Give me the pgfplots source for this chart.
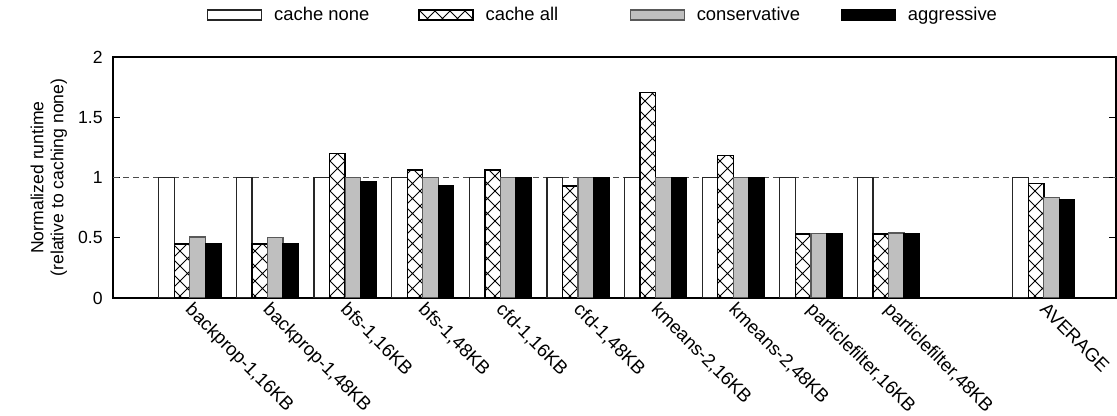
\documentclass[border=0pt]{standalone}
\usepackage{fontspec}
\setmainfont{Liberation Sans}
\usepackage{pgfplots}
\usepackage{pgfplotstable}
\pgfplotsset{compat=1.18}
\usetikzlibrary{patterns}
\pgfdeclarepatternformonly{bigcross}{\pgfqpoint{-0.3pt}{-0.3pt}}{\pgfqpoint{7.8pt}{7.8pt}}{\pgfqpoint{7.5pt}{7.5pt}}{%
 \pgfsetlinewidth{0.45pt}%
 \pgfpathmoveto{\pgfqpoint{0pt}{0pt}}\pgfpathlineto{\pgfqpoint{7.5pt}{7.5pt}}%
 \pgfpathmoveto{\pgfqpoint{0pt}{7.5pt}}\pgfpathlineto{\pgfqpoint{7.5pt}{0pt}}%
 \pgfusepath{stroke}}
\pgfplotstableread{
x none all cons aggr
0 1 0.449 0.507 0.451
1 1 0.449 0.499 0.449
2 1 1.200 1.000 0.967
3 1 1.061 1.000 0.931
4 1 1.061 1.000 1.000
5 1 0.928 1.000 1.000
6 1 1.704 1.000 1.000
7 1 1.185 1.000 1.000
8 1 0.532 0.532 0.532
9 1 0.532 0.540 0.532
11 1 0.948 0.837 0.820
}\data
\newcommand{\fs}{\fontsize{9.2}{10.5}\selectfont}
\newcommand{\fx}{\fontsize{9.3}{11}\selectfont}
\newcommand{\fy}{\fontsize{8.8}{10}\selectfont}
\newcommand{\lt}[1]{\makebox[72pt][l]{#1}}
\begin{document}
\begin{tikzpicture}
\begin{axis}[
  scale only axis, width=501.5pt, height=120.5pt,
  xmin=-0.99, xmax=11.93, ymin=0, ymax=2,
  ytick={0,0.5,1,1.5,2},
  yticklabels={0,0.5,1,1.5,2},
  ytick pos=both, tick align=inside, major tick length=3.5pt,
  xtick={0,1,2,3,4,5,6,7,8,9,11},
  xticklabels={{backprop-1,16KB},{backprop-1,48KB},{bfs-1,16KB},{bfs-1,48KB},{cfd-1,16KB},{cfd-1,48KB},{kmeans-2,16KB},{kmeans-2,48KB},{particlefilter,16KB},{particlefilter,48KB},{AVERAGE}},
  xtick style={draw=none},
  axis line style={line width=0.8pt},
  tick style={line width=0.6pt, black},
  /pgf/number format/assume math mode=true,
  xticklabel style={font=\fx, xshift=2.2pt, yshift=0pt, rotate=-45, anchor=north west, inner sep=1pt},
  yticklabel style={font=\fy, inner sep=2pt, xshift=-3pt},
  ylabel={Normalized runtime\\(relative to caching none)},
  ylabel style={font=\fy, align=center, at={(axis description cs:-0.064,0.5)}, anchor=center},
  legend columns=4,
  legend cell align=left,
  legend style={draw=none, fill=none, font=\fs, inner sep=0pt, outer sep=0pt,
    at={(0.0937,1.174)}, anchor=west,
    nodes={inner sep=0pt},
    column sep=0pt,
    /tikz/every odd column/.append style={column sep=6pt}},
  legend image code/.code={\draw[#1] (0pt,-2.5pt) rectangle (27pt,2.5pt);},
]
\addplot[forget plot, sharp plot, no marks, black!70, line width=0.5pt, dash pattern=on 3pt off 2pt] coordinates {(-0.99,1) (11.93,1)};
\addplot[ybar, bar width=0.2, bar shift=-0.3, fill=white, draw=black!85, line width=0.6pt] table[x=x,y=none]{\data};
\addplot[ybar, bar width=0.2, bar shift=-0.1, fill=white, draw=black, line width=0.7pt, postaction={pattern=bigcross}] table[x=x,y=all]{\data};
\addplot[ybar, bar width=0.2, bar shift=0.1, fill=black!25, draw=black!65, line width=0.6pt] table[x=x,y=cons]{\data};
\addplot[ybar, bar width=0.2, bar shift=0.3, fill=black, draw=black, line width=0.6pt] table[x=x,y=aggr]{\data};
\legend{\lt{cache none}, \lt{cache all}, \lt{conservative}, \lt{aggressive}}
\end{axis}
\pgfresetboundingbox
\path (-56.5pt,-59pt) rectangle (502pt,149pt);
\end{tikzpicture}
\end{document}
